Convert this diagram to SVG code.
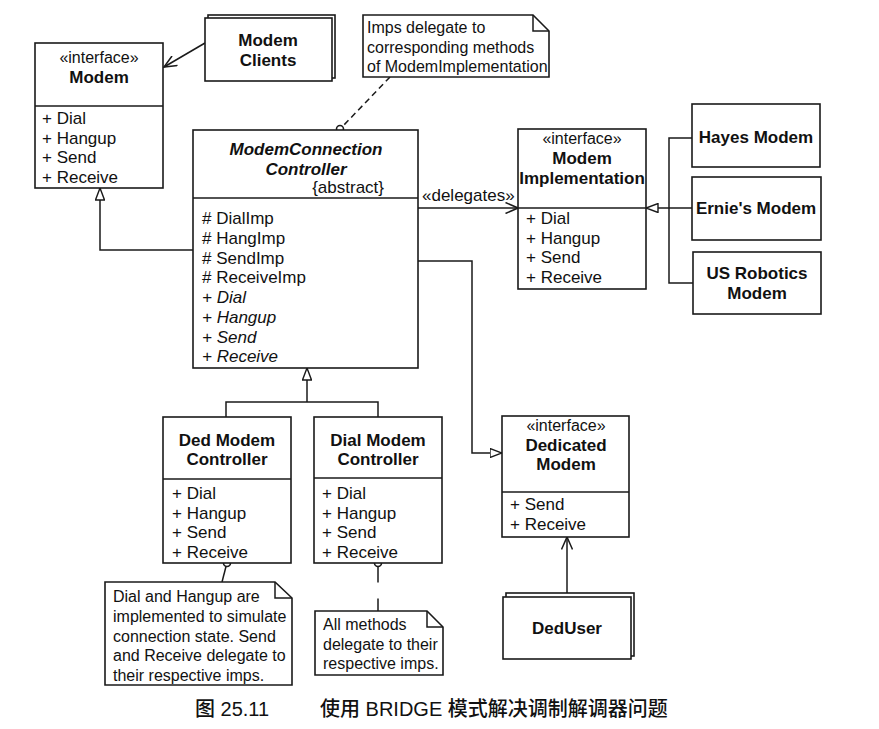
<svg xmlns="http://www.w3.org/2000/svg" width="879" height="729" viewBox="0 0 879 729">
<style>
  .box { fill: #fff; stroke: #1a1a1a; stroke-width: 1.6; }
  .ln { fill: none; stroke: #1a1a1a; stroke-width: 1.5; }
  .t { font-family: "Liberation Sans", Arial, sans-serif; font-size: 17px; fill: #111; }
  .st { font-family: "Liberation Sans", Arial, sans-serif; font-size: 16px; fill: #111; text-anchor: middle; }
  .b { font-weight: bold; }
  .i { font-style: italic; }
  .c { text-anchor: middle; }
  .n { font-family: "Liberation Sans", Arial, sans-serif; font-size: 16px; fill: #111; }
  .cap { font-family: "Liberation Sans", "Noto Sans CJK SC", sans-serif; font-size: 20px; font-weight: 500; fill: #111; }
</style>
<defs>
  <marker id="tri" viewBox="0 0 13 10" refX="12.5" refY="5" markerWidth="13" markerHeight="10" markerUnits="userSpaceOnUse" orient="auto">
    <path d="M0.5,0.5 L12.5,5 L0.5,9.5 Z" fill="#fff" stroke="#1a1a1a" stroke-width="1.4"/>
  </marker>
  <marker id="open" viewBox="0 0 14 12" refX="13" refY="6" markerWidth="14" markerHeight="12" markerUnits="userSpaceOnUse" orient="auto">
    <path d="M0.5,0.5 L13,6 L0.5,11.5" fill="none" stroke="#1a1a1a" stroke-width="1.5"/>
  </marker>
</defs>
<rect width="879" height="729" fill="#fff"/>

<g id="connectors">
  <line class="ln" x1="205" y1="43" x2="164" y2="67" marker-end="url(#open)"/>
  <polyline class="ln" points="193,250 100,250 100,188" marker-end="url(#tri)"/>
  <line class="ln" x1="418" y1="208" x2="518" y2="208" marker-end="url(#open)"/>
  <text class="t" x="422" y="201">«delegates»</text>
  <path class="ln" d="M692,138 H669 V283 H693"/>
  <line class="ln" x1="692" y1="208" x2="646" y2="208" marker-end="url(#tri)"/>
  <polyline class="ln" points="418,261 472,261 472,453 502,453" marker-end="url(#tri)"/>
  <path class="ln" d="M226,417 V402 H378 V417"/>
  <line class="ln" x1="307" y1="402" x2="307" y2="368" marker-end="url(#tri)"/>
  <line class="ln" x1="567" y1="597" x2="567" y2="537" marker-end="url(#open)"/>
  <line class="ln" x1="390" y1="77" x2="342.5" y2="126.5" stroke-dasharray="6 4"/>
  <circle class="box" cx="340" cy="129" r="3.5"/>
  <line class="ln" x1="226" y1="566.5" x2="222" y2="582"/>
  <circle class="box" cx="227" cy="563" r="3.5"/>
  <line class="ln" x1="378" y1="566.5" x2="378" y2="611" stroke-dasharray="16 16"/>
  <circle class="box" cx="378" cy="563" r="3.5"/>
</g>

<g id="modem">
  <rect class="box" x="35" y="43" width="128" height="145"/>
  <line class="ln" x1="35" y1="106" x2="163" y2="106"/>
  <text class="st" x="99" y="63">«interface»</text>
  <text class="t b c" x="99" y="83">Modem</text>
  <text class="t" x="42" y="124">+ Dial</text>
  <text class="t" x="42" y="144">+ Hangup</text>
  <text class="t" x="42" y="163">+ Send</text>
  <text class="t" x="42" y="183">+ Receive</text>
</g>

<g id="modemClients">
  <rect class="box" x="208" y="15" width="127" height="63"/>
  <rect class="box" x="205" y="18" width="127" height="63"/>
  <text class="t b c" x="268" y="46">Modem</text>
  <text class="t b c" x="268" y="66">Clients</text>
</g>

<g id="noteImps">
  <path class="box" d="M363,15 H533 L549,31 V77 H363 Z"/>
  <path class="ln" d="M533,15 V31 H549"/>
  <text class="n" x="367" y="33">Imps delegate to</text>
  <text class="n" x="367" y="53">corresponding methods</text>
  <text class="n" x="367" y="72">of ModemImplementation</text>
</g>

<g id="modemConnectionController">
  <rect class="box" x="193" y="130" width="225" height="238"/>
  <line class="ln" x1="193" y1="198" x2="418" y2="198"/>
  <text class="t b i c" x="306" y="155">ModemConnection</text>
  <text class="t b i c" x="306" y="175">Controller</text>
  <text class="t" x="384" y="193" text-anchor="end">{abstract}</text>
  <text class="t" x="202" y="224"># DialImp</text>
  <text class="t" x="202" y="244"># HangImp</text>
  <text class="t" x="202" y="264"># SendImp</text>
  <text class="t" x="202" y="283"># ReceiveImp</text>
  <text class="t i" x="202" y="303">+ Dial</text>
  <text class="t i" x="202" y="323">+ Hangup</text>
  <text class="t i" x="202" y="343">+ Send</text>
  <text class="t i" x="202" y="362">+ Receive</text>
</g>

<g id="modemImplementation">
  <rect class="box" x="518" y="129" width="128" height="160"/>
  <line class="ln" x1="518" y1="208" x2="646" y2="208"/>
  <text class="st" x="582" y="144">«interface»</text>
  <text class="t b c" x="582" y="164">Modem</text>
  <text class="t b c" x="582" y="184">Implementation</text>
  <text class="t" x="526" y="224">+ Dial</text>
  <text class="t" x="526" y="244">+ Hangup</text>
  <text class="t" x="526" y="263">+ Send</text>
  <text class="t" x="526" y="283">+ Receive</text>
</g>

<g id="hayesModem">
  <rect class="box" x="692" y="104" width="128" height="63"/>
  <text class="t b c" x="756" y="143">Hayes Modem</text>
</g>

<g id="erniesModem">
  <rect class="box" x="692" y="177" width="129" height="63"/>
  <text class="t b c" x="756" y="214">Ernie's Modem</text>
</g>

<g id="usRoboticsModem">
  <rect class="box" x="693" y="252" width="128" height="62"/>
  <text class="t b c" x="757" y="279">US Robotics</text>
  <text class="t b c" x="757" y="299">Modem</text>
</g>

<g id="dedicatedModem">
  <rect class="box" x="502" y="416" width="127" height="121"/>
  <line class="ln" x1="502" y1="492" x2="629" y2="492"/>
  <text class="st" x="566" y="431">«interface»</text>
  <text class="t b c" x="566" y="451">Dedicated</text>
  <text class="t b c" x="566" y="470">Modem</text>
  <text class="t" x="510" y="510">+ Send</text>
  <text class="t" x="510" y="530">+ Receive</text>
</g>

<g id="dedUser">
  <rect class="box" x="506" y="593" width="128" height="63"/>
  <rect class="box" x="503" y="597" width="128" height="62"/>
  <text class="t b c" x="567" y="634">DedUser</text>
</g>

<g id="dedModemController">
  <rect class="box" x="163" y="417" width="128" height="146"/>
  <line class="ln" x1="163" y1="479" x2="291" y2="479"/>
  <text class="t b c" x="227" y="446">Ded Modem</text>
  <text class="t b c" x="227" y="465">Controller</text>
  <text class="t" x="172" y="499">+ Dial</text>
  <text class="t" x="172" y="519">+ Hangup</text>
  <text class="t" x="172" y="538">+ Send</text>
  <text class="t" x="172" y="558">+ Receive</text>
</g>

<g id="dialModemController">
  <rect class="box" x="314" y="417" width="128" height="146"/>
  <line class="ln" x1="314" y1="478" x2="442" y2="478"/>
  <text class="t b c" x="378" y="446">Dial Modem</text>
  <text class="t b c" x="378" y="465">Controller</text>
  <text class="t" x="322" y="499">+ Dial</text>
  <text class="t" x="322" y="519">+ Hangup</text>
  <text class="t" x="322" y="538">+ Send</text>
  <text class="t" x="322" y="558">+ Receive</text>
</g>

<g id="noteDed">
  <path class="box" d="M105,582 H275 L292,598 V685 H105 Z"/>
  <path class="ln" d="M275,582 V598 H292"/>
  <text class="n" x="113" y="602">Dial and Hangup are</text>
  <text class="n" x="113" y="622">implemented to simulate</text>
  <text class="n" x="113" y="642">connection state. Send</text>
  <text class="n" x="113" y="661">and Receive delegate to</text>
  <text class="n" x="113" y="681">their respective imps.</text>
</g>

<g id="noteDial">
  <path class="box" d="M315,611 H427 L443,627 V675 H315 Z"/>
  <path class="ln" d="M427,611 V627 H443"/>
  <text class="n" x="323" y="630">All methods</text>
  <text class="n" x="323" y="650">delegate to their</text>
  <text class="n" x="323" y="669">respective imps.</text>
</g>

<g id="caption">
  <text class="cap" y="716"><tspan x="195">图 25.11</tspan><tspan x="320">使用 BRIDGE 模式解决调制解调器问题</tspan></text>
</g>
</svg>
